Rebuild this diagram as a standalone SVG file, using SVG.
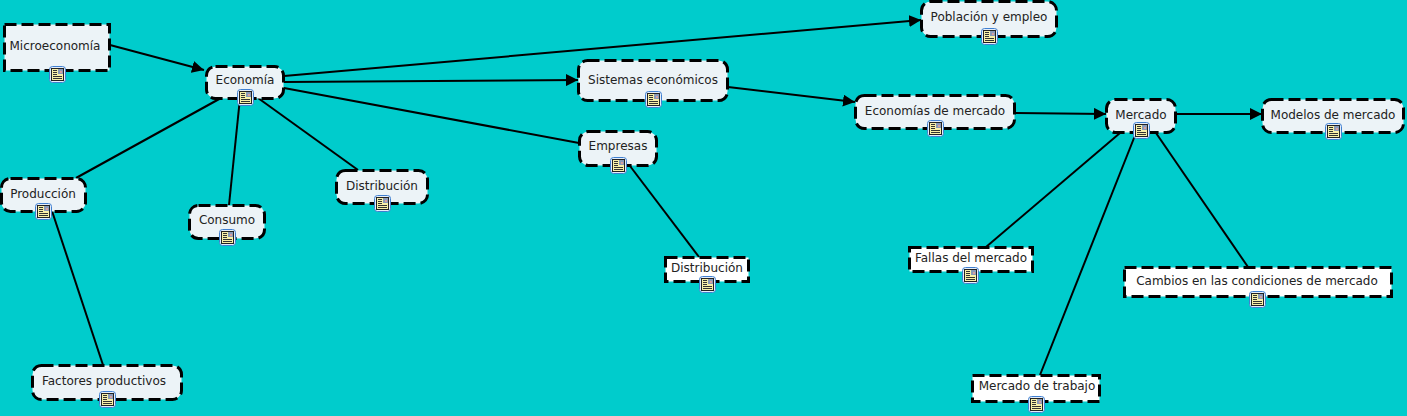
<svg xmlns="http://www.w3.org/2000/svg" width="1407" height="416" viewBox="0 0 1407 416">
<style>
.n{fill:#ecf3f7;stroke:#000;stroke-width:3;stroke-dasharray:12 5}
.w{fill:#fff}
text{font-family:"DejaVu Sans",sans-serif;font-size:12px;fill:#222;text-anchor:middle}
.c{stroke:#000;stroke-width:2;fill:none}
</style>
<defs>
<marker id="a" markerUnits="userSpaceOnUse" markerWidth="14" markerHeight="12" refX="12" refY="6" orient="auto"><path d="M0 0L12 6L0 12Z" fill="#000"/></marker>
<g id="i">
<rect x="-7.500" y="-7.500" width="16" height="16" rx="3" fill="#e6eefa" stroke="#3f7fd0" stroke-width="1"/>
<rect x="-5.500" y="-5.500" width="12" height="12" fill="#f8f0a8" stroke="#222" stroke-width="1"/>
<rect x="1" y="-5" width="5" height="5" fill="#8a9ab8"/>
<rect x="3" y="-3" width="2" height="2" fill="#d8a0a0"/>
<rect x="-4" y="-4" width="4" height="1" fill="#333"/>
<rect x="-4" y="-2" width="4" height="1" fill="#333"/>
<rect x="-4" y="0" width="4" height="1" fill="#333"/>
<rect x="-4" y="2" width="9" height="1" fill="#333"/>
<rect x="-4" y="4" width="9" height="1" fill="#333"/>
</g>
</defs>
<rect width="1407" height="416" fill="#00cccc"/>
<g id="connectors">
<path class="c" d="M110 45L204 70" marker-end="url(#a)"/>
<path class="c" d="M284 76L921 20" marker-end="url(#a)"/>
<path class="c" d="M284 82L578 80" marker-end="url(#a)"/>
<path class="c" d="M284 88L579 143"/>
<path class="c" d="M728 87L855 102" marker-end="url(#a)"/>
<path class="c" d="M1015 113L1106 114" marker-end="url(#a)"/>
<path class="c" d="M1176 114L1262 114" marker-end="url(#a)"/>
<path class="c" d="M221 98L76 178"/>
<path class="c" d="M240 98L229 205"/>
<path class="c" d="M258 98L358 170"/>
<path class="c" d="M52 211L103 365"/>
<path class="c" d="M630 166L699 257"/>
<path class="c" d="M1120 133L986 247"/>
<path class="c" d="M1136 133L1040 375"/>
<path class="c" d="M1156 133L1248 267"/>
</g>
<g id="n1"><rect class="n" x="4.500" y="24.500" width="105" height="46"/><text x="55" y="50">Microeconomía</text><use href="#i" x="57" y="74"/></g>
<g id="n2"><rect class="n" x="206.500" y="66.500" width="77" height="32" rx="9"/><text x="245" y="84">Economía</text><use href="#i" x="245" y="97"/></g>
<g id="n3"><rect class="n" x="921.500" y="1.500" width="135" height="35" rx="9"/><text x="989" y="21">Población y empleo</text><use href="#i" x="989" y="36"/></g>
<g id="n4"><rect class="n" x="578.500" y="60.500" width="149" height="40" rx="9"/><text x="653" y="84">Sistemas económicos</text><use href="#i" x="653" y="99"/></g>
<g id="n5"><rect class="n" x="855.500" y="95.500" width="159" height="33" rx="9"/><text x="935" y="115">Economías de mercado</text><use href="#i" x="935" y="128"/></g>
<g id="n6"><rect class="n" x="1106.500" y="99.500" width="69" height="33" rx="9"/><text x="1141" y="119">Mercado</text><use href="#i" x="1141" y="130"/></g>
<g id="n7"><rect class="n" x="1262.500" y="99.500" width="141" height="33" rx="9"/><text x="1333" y="119">Modelos de mercado</text><use href="#i" x="1333" y="131"/></g>
<g id="n8"><rect class="n" x="579.500" y="131.500" width="77" height="34" rx="9"/><text x="618" y="150">Empresas</text><use href="#i" x="618" y="165"/></g>
<g id="n9"><rect class="n w" x="665.500" y="257.500" width="83" height="24"/><text x="707" y="272">Distribución</text><use href="#i" x="707" y="284"/></g>
<g id="n10"><rect class="n w" x="909.500" y="247.500" width="123" height="24"/><text x="971" y="262">Fallas del mercado</text><use href="#i" x="970" y="275"/></g>
<g id="n11"><rect class="n w" x="1124.500" y="267.500" width="267" height="29"/><text x="1257" y="285">Cambios en las condiciones de mercado</text><use href="#i" x="1257" y="299"/></g>
<g id="n12"><rect class="n w" x="972.500" y="375.500" width="127" height="26"/><text x="1037" y="390">Mercado de trabajo</text><use href="#i" x="1036" y="404"/></g>
<g id="n13"><rect class="n" x="1.500" y="178.500" width="84" height="33" rx="9"/><text x="43" y="198">Producción</text><use href="#i" x="43" y="211"/></g>
<g id="n14"><rect class="n" x="189.500" y="205.500" width="75" height="33" rx="9"/><text x="227" y="224">Consumo</text><use href="#i" x="227" y="237"/></g>
<g id="n15"><rect class="n" x="336.500" y="170.500" width="91" height="33" rx="9"/><text x="382" y="190">Distribución</text><use href="#i" x="382" y="203"/></g>
<g id="n16"><rect class="n" x="32.500" y="365.500" width="149" height="34" rx="9"/><text x="104" y="385">Factores productivos</text><use href="#i" x="107" y="399"/></g>
</svg>
